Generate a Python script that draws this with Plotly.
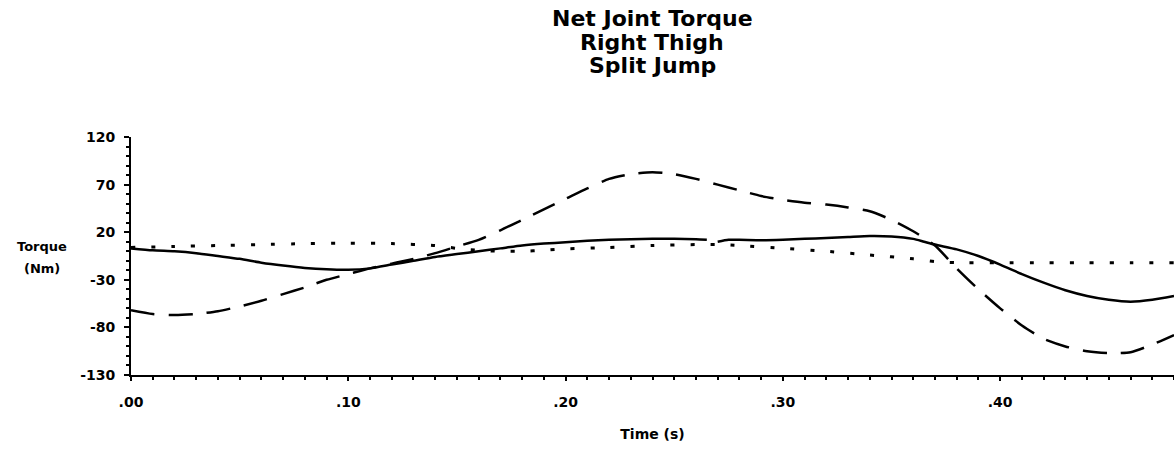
import plotly.graph_objects as go

# ---- data ----
t_solid = [0.000, 0.010, 0.020, 0.030, 0.040, 0.050, 0.060, 0.070, 0.080, 0.090,
           0.100, 0.110, 0.120, 0.130, 0.140, 0.150, 0.160, 0.170, 0.180, 0.190,
           0.200, 0.210, 0.220, 0.230, 0.240, 0.250, 0.260, 0.265, None, 0.270,
           0.275, 0.280, 0.290, 0.300, 0.310, 0.320, 0.330, 0.340, 0.350, 0.360,
           0.365, 0.370, 0.380, 0.390, 0.400, 0.410, 0.420, 0.430, 0.440, 0.450,
           0.460, 0.470, 0.480]
v_solid = [3, 1, 0, -2, -5, -8, -12, -15, -17.5, -19,
           -19.5, -18, -14, -10, -6, -3, 0, 3, 6, 8,
           9.5, 11, 12, 12.5, 13, 13, 12.5, 12, None, 10,
           12, 12, 11.5, 12, 13, 14, 15, 16, 15.5, 13,
           10, 7, 2, -5, -14, -24, -33, -41, -47, -51,
           -53, -51, -47]

t_dashed = [0.000, 0.010, 0.020, 0.030, 0.040, 0.050, 0.060, 0.070, 0.080, 0.090,
            0.100, 0.110, 0.120, 0.130, 0.140, 0.150, 0.160, 0.170, 0.180, 0.190,
            0.200, 0.210, 0.220, 0.230, 0.240, 0.250, 0.260, 0.270, 0.280, 0.290,
            0.300, 0.310, 0.320, 0.330, 0.340, 0.350, 0.360, 0.370, 0.380, 0.390,
            0.400, 0.410, 0.420, 0.430, 0.440, 0.450, 0.460, 0.470, 0.480]
v_dashed = [-62, -66, -67, -66, -63, -58, -52, -45, -38, -30,
            -24, -18, -13, -8, -2, 5, 12, 22, 33, 44,
            55, 66, 76, 81, 83, 81, 76, 70, 64, 58,
            54, 51, 49, 46, 42, 33, 21, 6, -18, -40,
            -60, -78, -92, -100, -105, -107, -106, -98, -88]

t_dotted = [0.00, 0.02, 0.04, 0.06, 0.08, 0.10, 0.12, 0.14, 0.15, 0.16,
            0.17, 0.18, 0.19, 0.20, 0.22, 0.24, 0.26, 0.27, 0.28, 0.30,
            0.32, 0.34, 0.36, 0.37, 0.38, 0.40, 0.42, 0.44, 0.46, 0.48]
v_dotted = [4, 5, 6, 7, 8, 8.5, 8, 6, 3, 1,
            0, 0, 1, 2.5, 4, 6, 7, 7, 6, 3,
            0, -4, -8, -11, -12, -12, -12, -12, -12, -12]

x_tickvals = [0.0, 0.1, 0.2, 0.3, 0.4]
x_ticktext = [".00", ".10", ".20", ".30", ".40"]
y_tickvals = [-130, -80, -30, 20, 70, 120]
y_ticktext = ["-130", "-80", "-30", "20", "70", "120"]

title_lines = ["Net Joint Torque", "Right Thigh", "Split Jump"]
x_title = "Time (s)"
y_title_lines = ["Torque", "(Nm)"]

FONT = "DejaVu Sans"

# plot-area geometry in pixels (used only to place free text)
L, R, T, B = 131, 0, 137, 74
W, H = 1174, 449
PW, PH = W - L - R, H - T - B


def px_x(x):
    return (x - L) / PW


def px_y(y):
    return (H - B - y) / PH


fig = go.Figure()
fig.add_trace(go.Scatter(x=t_solid, y=v_solid, mode="lines", connectgaps=False,
                         line=dict(color="black", width=2.5, shape="spline", smoothing=0.6)))
fig.add_trace(go.Scatter(x=t_dashed, y=v_dashed, mode="lines",
                         line=dict(color="black", width=2.5, dash="24px,14px",
                                   shape="spline", smoothing=0.6)))
fig.add_trace(go.Scatter(x=t_dotted, y=v_dotted, mode="lines",
                         line=dict(color="black", width=3, dash="4px,16px",
                                   shape="spline", smoothing=0.6)))

fig.update_layout(
    width=W, height=H,
    margin=dict(l=L, r=R, t=T, b=B),
    paper_bgcolor="white", plot_bgcolor="white",
    showlegend=False,
    font=dict(family=FONT, color="black"),
)

fig.update_xaxes(
    range=[0, 0.48], showgrid=False, zeroline=False,
    showline=True, linecolor="black", linewidth=2,
    tickvals=x_tickvals, ticktext=[f"<b>{s}</b>" for s in x_ticktext],
    ticks="outside", ticklen=4, tickwidth=2, tickcolor="black",
    minor=dict(dtick=0.01, ticks="outside", ticklen=3, tickwidth=2, tickcolor="black"),
    tickfont=dict(size=14, family=FONT, color="black"),
    ticklabelstandoff=9,
    title=dict(text=f"<b>{x_title}</b>", font=dict(size=14, family=FONT, color="black"),
               standoff=20),
)
fig.update_yaxes(
    range=[-130, 120], showgrid=False, zeroline=False,
    showline=True, linecolor="black", linewidth=2,
    tickvals=y_tickvals, ticktext=[f"<b>{s}</b>" for s in y_ticktext],
    ticks="outside", ticklen=5, tickwidth=2, tickcolor="black",
    minor=dict(dtick=10, ticks="outside", ticklen=3, tickwidth=2, tickcolor="black"),
    tickfont=dict(size=14, family=FONT, color="black"),
    ticklabelstandoff=6,
)

for i, line in enumerate(title_lines):
    fig.add_annotation(text=f"<b>{line}</b>", xref="paper", yref="paper",
                       x=px_x(652), y=px_y(18 + 24 * i), xanchor="center", yanchor="middle",
                       showarrow=False, font=dict(size=22, family=FONT, color="black"))

for i, line in enumerate(y_title_lines):
    fig.add_annotation(text=f"<b>{line}</b>", xref="paper", yref="paper",
                       x=px_x(42), y=px_y(246 + 22 * i), xanchor="center", yanchor="middle",
                       showarrow=False, font=dict(size=13, family=FONT, color="black"))

fig.write_html("out.html")
